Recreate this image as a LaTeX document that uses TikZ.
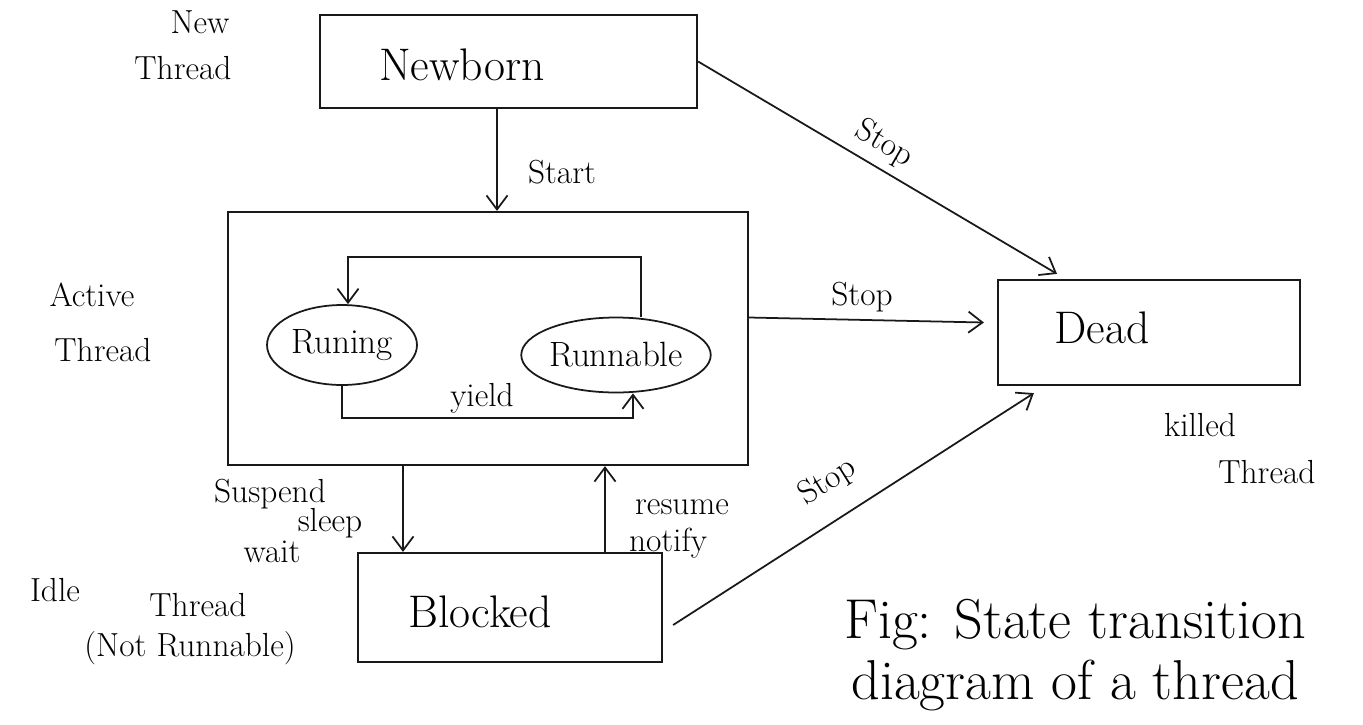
\documentclass[tikz,border=0pt]{standalone}
\usetikzlibrary{arrows.meta,shapes.geometric}
\begin{document}
\begin{tikzpicture}[x=0.02cm,y=-0.02cm,
  ink/.style={draw=black!90, line width=1pt},
  box/.style={ink, line width=1.3pt, rectangle, inner sep=0pt},
  blob/.style={ink, ellipse, inner sep=0pt, font=\fontsize{20}{22}\selectfont},
  arr/.style={ink, -{Straight Barb[length=8pt,width=12pt]}},
  lbl/.style={font=\fontsize{19}{21}\selectfont, inner sep=0pt},
  big/.style={font=\fontsize{26}{28}\selectfont, inner sep=0pt},
  figtext/.style={font=\fontsize{32}{36}\selectfont, inner sep=0pt}]
\useasboundingbox (0,0) rectangle (1363,724);
\fill[white] (0,0) rectangle (1363,724);

% thread states
\node[box, minimum width=7.54cm, minimum height=1.86cm] (newborn) at (508.5,61.5) {};
\node[box, minimum width=10.4cm, minimum height=5.06cm] (active) at (488,338.5) {};
\node[box, minimum width=6.04cm, minimum height=2.1cm] (dead) at (1149,332.5) {};
\node[box, minimum width=6.08cm, minimum height=2.18cm] (blocked) at (510,607.5) {};
\node[blob, minimum width=3.0cm, minimum height=1.6cm] (running) at (342,345) {Runing};
\node[blob, minimum width=3.56cm, minimum height=1.5cm] (runnable) at (616,355) {Runnable};

% box captions
\node[big] (newbornlbl) at (462,65) {Newborn};
\node[big] (deadlbl) at (1102,328) {Dead};
\node[big] (blockedlbl) at (480,612) {Blocked};

% helper coordinates for straight connectors
\coordinate (stx) at (497,0);
\coordinate (sx) at (403,0);
\coordinate (rx) at (605,0);
\coordinate (loopt) at (0,257);
\coordinate (loopb) at (0,418);

% transitions
\draw[arr] (newborn.south -| stx) -- (active.north -| stx);
\draw[arr] (newborn.east) -- ([xshift=-1.84cm,yshift=0.1cm]dead.north);
\draw[arr] ([yshift=0.42cm]active.east) -- ([xshift=-0.26cm,yshift=0.2cm]dead.west);
\draw[arr] ([xshift=0.2cm,yshift=-0.35cm]blocked.east) -- ([xshift=0.74cm,yshift=-0.14cm]dead.south west);
\draw[arr] (active.south -| sx) -- (blocked.north -| sx);
\draw[arr] (blocked.north -| rx) -- (active.south -| rx);
\draw[arr] ([xshift=0.5cm]runnable.north) -- ([xshift=0.5cm]runnable.north |- loopt)
  -- ([xshift=0.12cm]running.north |- loopt) -- ([xshift=0.12cm]running.north);
\draw[arr] (running.south) -- (running.south |- loopb)
  -- ([xshift=0.34cm]runnable.south |- loopb) -- ([xshift=0.34cm]runnable.south);

% transition labels
\node[lbl] (lstart) at (562,172) {Start};
\node[lbl, rotate=-30] (lstop1) at (884,144) {Stop};
\node[lbl] (lstop2) at (862,297) {Stop};
\node[lbl, rotate=32] (lstop3) at (828,482) {Stop};
\node[lbl] (lyield) at (482,398) {yield};
\node[lbl] (lsusp) at (270,494) {Suspend};
\node[lbl] (lsleep) at (330,523) {sleep};
\node[lbl] (lwait) at (272,552) {wait};
\node[lbl] (lresume) at (682,507) {resume};
\node[lbl] (lnotify) at (668,543) {notify};

% side notes
\node[lbl] (newa) at (200,22) {New};
\node[lbl] (newb) at (183,68) {Thread};
\node[lbl] (acta) at (92,295) {Active};
\node[lbl] (actb) at (103,350) {Thread};
\node[lbl] (idlea) at (55,590) {Idle};
\node[lbl] (idleb) at (198,605) {Thread};
\node[lbl] (idlec) at (190,648) {(Not Runnable)};
\node[lbl] (killa) at (1200,425) {killed};
\node[lbl, anchor=west] (killb) at (1218,472) {Thread};

% figure caption
\node[figtext] (figa) at (1075,625) {Fig: State transition};
\node[figtext] (figb) at (1075,685) {diagram of a thread};
\end{tikzpicture}
\end{document}
